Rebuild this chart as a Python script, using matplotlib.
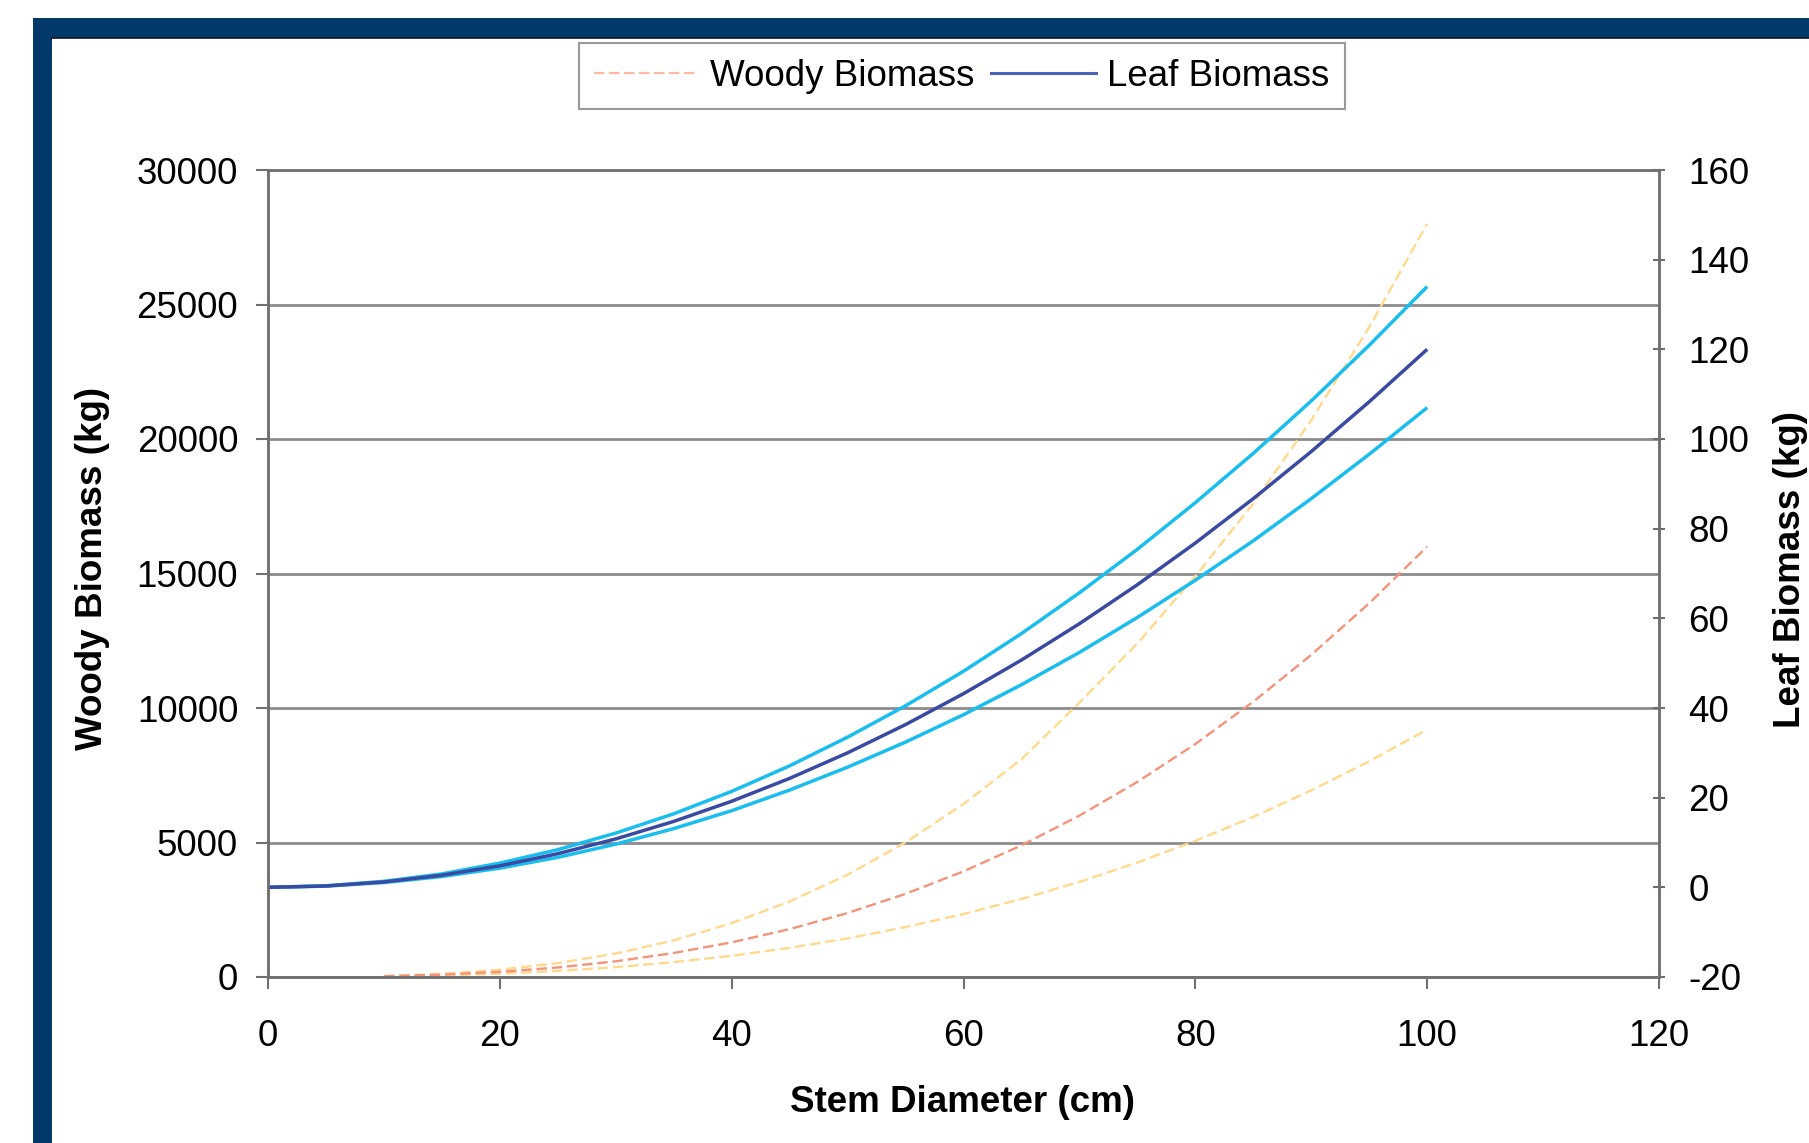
import matplotlib
matplotlib.use("Agg")
import matplotlib.pyplot as plt
from matplotlib.patches import Rectangle
from matplotlib.lines import Line2D

plt.rcParams['font.family'] = ['Liberation Sans', 'DejaVu Sans']
plt.rcParams['lines.scale_dashes'] = False

# ---- data ----
diam_leaf = [0, 5, 10, 15, 20, 25, 30, 35, 40, 45, 50, 55, 60, 65, 70, 75, 80, 85, 90, 95, 100]
leaf_mean = [0, 0.3, 1.2, 2.7, 4.8, 7.5, 10.8, 14.7, 19.2, 24.3, 30.0, 36.3, 43.2, 50.7, 58.8, 67.5, 76.8, 86.7, 97.2, 108.3, 120.0]
leaf_upper = [0, 0.34, 1.34, 3.0, 5.4, 8.4, 12.1, 16.4, 21.4, 27.1, 33.5, 40.5, 48.2, 56.6, 65.7, 75.4, 85.8, 96.8, 108.5, 120.9, 134.0]
leaf_lower = [0, 0.27, 1.07, 2.41, 4.28, 6.69, 9.63, 13.1, 17.1, 21.7, 26.8, 32.4, 38.5, 45.2, 52.4, 60.2, 68.5, 77.3, 86.7, 96.6, 107.0]

diam_wood = [10, 15, 20, 25, 30, 35, 40, 45, 50, 55, 60, 65, 70, 75, 80, 85, 90, 95, 100]
wood_mean = [28, 87, 191, 354, 584, 892, 1288, 1780, 2379, 3091, 3927, 4893, 6000, 7253, 8661, 10234, 11976, 13894, 16000]
wood_upper = [37, 119, 272, 517, 873, 1362, 2000, 2808, 3803, 5006, 6431, 8097, 10200, 12400, 14900, 17600, 20700, 24156, 28000]
wood_lower = [19, 57, 123, 224, 365, 552, 789, 1082, 1435, 1854, 2341, 2900, 3537, 4256, 5060, 5952, 6937, 8018, 9200]

x_ticks = [0, 20, 40, 60, 80, 100, 120]
left_ticks = [0, 5000, 10000, 15000, 20000, 25000, 30000]
right_ticks = [-20, 0, 20, 40, 60, 80, 100, 120, 140, 160]

# ---- styles ----
C_NAVY = '#3a4aa3'
C_CYAN = '#19bdee'
C_SALMON = '#f4937a'
C_YELLOW = '#ffd98c'
C_LEG_WOOD = '#ffb9a3'
C_LEG_LEAF = '#4a62b8'
FS = 26.5
W, H = 1809, 1143

fig = plt.figure(figsize=(W / 100, H / 100), dpi=100)
fig.patch.set_facecolor('white')

# navy frame (top and left bands)
fig.patches.append(Rectangle((33 / W, 0), 19 / W, 1 - 18 / H, transform=fig.transFigure,
                             facecolor='#03386b', edgecolor='none', zorder=0))
fig.patches.append(Rectangle((33 / W, 1 - 38 / H), 1, 20 / H, transform=fig.transFigure,
                             facecolor='#03386b', edgecolor='none', zorder=0))
fig.lines.append(Line2D([52 / W, 1], [1 - 38 / H, 1 - 38 / H], transform=fig.transFigure,
                        color='#101820', lw=1.2))

ax = fig.add_axes([268 / W, 1 - 977 / H, (1659 - 268) / W, (977 - 170) / H])
ax2 = ax.twinx()

dash = (0, (7.5, 3.5))
ax.plot(diam_wood, wood_upper, color=C_YELLOW, lw=1.7, ls=dash)
ax.plot(diam_wood, wood_lower, color=C_YELLOW, lw=1.7, ls=dash)
ax.plot(diam_wood, wood_mean, color=C_SALMON, lw=1.7, ls=dash)

ax2.plot(diam_leaf, leaf_upper, color=C_CYAN, lw=2.5, solid_capstyle='butt')
ax2.plot(diam_leaf, leaf_lower, color=C_CYAN, lw=2.5, solid_capstyle='butt')
ax2.plot(diam_leaf, leaf_mean, color=C_NAVY, lw=2.5, solid_capstyle='butt')

ax.set_xlim(0, 120)
ax.set_ylim(0, 30000)
ax2.set_ylim(-20, 160)
ax.set_xticks(x_ticks)
ax.set_yticks(left_ticks)
ax2.set_yticks(right_ticks)
ax.set_xticklabels([str(v) for v in x_ticks])
ax.set_yticklabels([str(v) for v in left_ticks])
ax2.set_yticklabels([str(v) for v in right_ticks])

ax.yaxis.grid(True, color='#8c8c8c', lw=2.0)
ax.set_axisbelow(True)

spine_c = '#707070'
for a in (ax, ax2):
    for s in a.spines.values():
        s.set_color(spine_c)
        s.set_linewidth(1.8)
ax.spines['top'].set_color('#8c8c8c')
ax.tick_params(axis='both', colors=spine_c, labelcolor='black', labelsize=FS,
               length=8.5, width=1.5, direction='out')
ax.tick_params(axis='y', pad=13)
ax.tick_params(axis='x', pad=21.5)
ax2.tick_params(axis='y', colors=spine_c, labelcolor='black', labelsize=FS,
                length=8.5, width=1.5, direction='inout', pad=17)
ax2.set_ylabel('')

fig.text(93 / W, 1 - 568 / H, 'Woody Biomass (kg)', rotation=90, ha='center', va='center',
         fontsize=FS, fontweight='bold')
fig.text(1790 / W, 1 - 569 / H, 'Leaf Biomass (kg)', rotation=90, ha='center', va='center',
         fontsize=FS, fontweight='bold')
fig.text(963 / W, 1 - 1102 / H, 'Stem Diameter (cm)', ha='center', va='center',
         fontsize=FS, fontweight='bold')

handles = [Line2D([], [], color=C_LEG_WOOD, lw=1.6, ls=(0, (7.5, 3.3))),
           Line2D([], [], color=C_LEG_LEAF, lw=2.2)]
leg = fig.legend(handles, ['Woody Biomass', 'Leaf Biomass'], loc='center',
                 bbox_to_anchor=(962 / W, 1 - 76 / H), ncol=2, fontsize=FS,
                 frameon=True, fancybox=False, shadow=False, edgecolor='#808080',
                 handlelength=2.85, handletextpad=0.3, columnspacing=0.45,
                 borderpad=0.42, borderaxespad=0)
leg.get_frame().set_linewidth(1.5)

fig.savefig('out.png', dpi=100, facecolor='white')
